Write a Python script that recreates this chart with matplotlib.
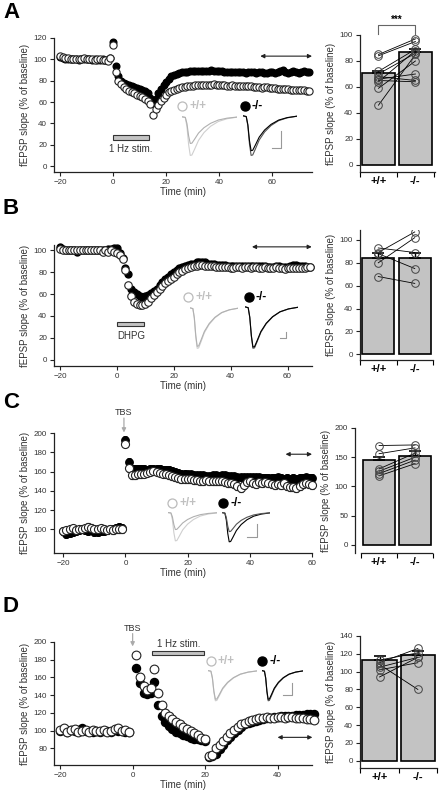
import numpy as np
import matplotlib
matplotlib.use("Agg")
import matplotlib.pyplot as plt
from matplotlib.patches import Rectangle
from matplotlib.lines import Line2D

plt.rcParams['font.family'] = ['Liberation Sans', 'DejaVu Sans']

W, H = 442, 796

# ---------------- data ----------------
# A: 1 Hz LTD
t_a = np.arange(-20, 75)
wt_a = [103, 102, 101, 101, 100, 100, 100, 100, 100, 101, 100, 100, 100, 99, 100, 100, 99, 99, 98, 101,
        113, 88, 80, 77, 74, 72, 70, 69, 68, 67,
        66, 65, 63, 61, 58, 48, 53, 57, 61, 64,
        67, 69, 70, 71, 72, 73, 74, 74, 75, 75,
        75, 76, 76, 76, 76, 76, 76, 76, 77, 76,
        76, 76, 76, 75, 75, 76, 75, 75, 75, 75,
        75, 75, 75, 74, 74, 74, 73, 74, 74, 73,
        73, 73, 72, 72, 72, 72, 72, 71, 71, 71,
        71, 71, 71, 70, 70]
ko_a = [102, 101, 100, 100, 100, 100, 100, 99, 100, 100, 100, 100, 99, 100, 99, 99, 100, 99, 99, 101,
        116, 94, 84, 80, 78, 77, 76, 75, 74, 73,
        72, 71, 70, 68, 64, 59, 63, 68, 72, 76,
        79, 82, 84, 85, 86, 87, 88, 88, 88, 89,
        89, 89, 89, 89, 89, 89, 89, 90, 89, 89,
        89, 89, 88, 88, 88, 88, 88, 88, 88, 88,
        87, 88, 88, 88, 87, 88, 88, 87, 87, 88,
        88, 87, 88, 89, 90, 88, 87, 88, 89, 88,
        87, 88, 89, 88, 88]

# B: DHPG LTD
t_b = np.arange(-20, 69)
wt_b = [101, 100, 100, 100, 100, 100, 100, 100, 100, 100, 100, 100, 100, 100, 100, 99, 100, 99, 100, 99,
        98, 96, 92, 82, 68, 58, 53, 51, 50, 50,
        51, 53, 56, 59, 62, 65, 67, 70, 72, 74,
        76, 78, 80, 81, 83, 84, 85, 86, 86, 87,
        87, 86, 86, 86, 86, 85, 85, 85, 85, 85,
        84, 84, 85, 85, 84, 85, 85, 84, 85, 85,
        84, 84, 85, 84, 84, 84, 85, 84, 84, 83,
        84, 84, 84, 84, 84, 84, 84, 85, 85]
ko_b = [103, 101, 100, 100, 100, 100, 99, 100, 100, 100, 100, 100, 100, 100, 100, 100, 100, 101, 101, 102,
        102, 98, 93, 84, 78, 65, 62, 60, 58, 57,
        58, 59, 61, 63, 65, 68, 71, 74, 76, 78,
        80, 82, 84, 85, 86, 87, 88, 88, 89, 89,
        89, 89, 88, 88, 88, 87, 87, 87, 87, 86,
        86, 86, 86, 86, 86, 86, 86, 86, 86, 86,
        86, 86, 86, 85, 85, 85, 86, 86, 85, 85,
        85, 86, 87, 87, 86, 86, 86, 85, 85]

# C: TBS LTP
t_c = np.arange(-20, 61)
wt_c = [98, 99, 100, 101, 99, 100, 100, 101, 103, 102, 100, 100, 101, 100, 99, 100, 99, 100, 100, 100,
        189, 164, 156, 156, 157, 157, 158, 159, 160, 161,
        160, 159, 158, 157, 156, 155, 154, 153, 152, 152,
        152, 152, 151, 151, 150, 150, 151, 150, 150, 150,
        150, 150, 149, 148, 148, 147, 145, 143, 146, 149,
        150, 148, 147, 149, 148, 149, 148, 147, 146, 147,
        146, 148, 145, 144, 144, 143, 145, 147, 148, 147, 146]
ko_c = [98, 95, 96, 97, 98, 99, 100, 99, 98, 99, 97, 97, 98, 98, 99, 100, 100, 102, 103, 102,
        193, 170, 163, 163, 163, 163, 163, 162, 163, 163,
        163, 163, 162, 162, 162, 161, 160, 159, 158, 158,
        157, 157, 156, 156, 156, 156, 155, 155, 156, 156,
        155, 156, 156, 155, 155, 155, 154, 154, 154, 154,
        154, 154, 154, 154, 153, 153, 153, 153, 153, 154,
        153, 152, 153, 152, 153, 152, 153, 153, 154, 153, 153]

# D: TBS then 1 Hz depotentiation
t_d = np.concatenate([np.arange(-20, 0), np.arange(1, 51)])
wt_d = [101, 103, 98, 101, 102, 99, 100, 101, 99, 101, 100, 100, 101, 99, 100, 102, 103, 100, 101, 98,
        185, 160, 150, 146, 148, 169, 142, 129, 120, 116,
        113, 110, 107, 104, 102, 100, 97, 95, 92, 90,
        71, 72, 80, 84, 88, 93, 97, 101, 104, 107,
        109, 111, 112, 113, 114, 114, 115, 114, 114, 115,
        115, 114, 115, 115, 114, 114, 114, 113, 113, 112]
ko_d = [100, 101, 99, 101, 100, 101, 103, 100, 100, 99, 100, 98, 100, 100, 99, 101, 100, 100, 99, 99,
        171, 154, 142, 141, 142, 155, 129, 116, 110, 105,
        102, 99, 97, 95, 94, 92, 91, 90, 89, 88,
        70, 71, 74, 79, 84, 89, 93, 97, 101, 104,
        107, 109, 110, 111, 112, 113, 114, 114, 115, 115,
        116, 116, 117, 117, 118, 118, 118, 119, 119, 119]

# bar graphs: means, sem, individual slices (paired)
groups = ['+/+', '-/-']
mean_a, sem_a = [71, 87], [1.2, 2.5]
pts_wt_a = [85, 84, 72, 70, 68, 66, 65, 64, 59, 46]
pts_ko_a = [97, 95, 89, 86, 65, 70, 64, 88, 80, 85]
mean_b, sem_b = [84.5, 84.5], [4.5, 4.5]
pts_wt_b = [89, 80, 93, 88, 68]
pts_ko_b = [107, 102, 89, 75, 62]
mean_c, sem_c = [145, 152], [6, 8]
pts_wt_c = [170, 156, 130, 126, 122, 118]
pts_ko_c = [171, 166, 157, 150, 145, 139]
mean_d, sem_d = [113.5, 118.5], [3.5, 4.5]
pts_wt_d = [113, 110, 105, 102, 94, 108]
pts_ko_d = [121, 126, 116, 110, 116, 80]

# example field potential, normalised
trace_t = [0, 0.06, 0.09, 0.12, 0.15, 0.18, 0.23, 0.3, 0.4, 0.52, 0.66, 0.82, 1.0]
trace_y = [0, -0.02, -0.25, -0.7, -0.98, -0.97, -0.82, -0.6, -0.4, -0.24, -0.12, -0.05, -0.01]

TXT = '#333333'
YLAB = 'fEPSP slope (% of baseline)'


def fx(px):
    return px / W


def fy(py):
    return 1 - py / H


def style(ax, fs=5.8):
    for s in ['top', 'right']:
        ax.spines[s].set_visible(False)
    for s in ['left', 'bottom']:
        ax.spines[s].set_linewidth(0.9)
        ax.spines[s].set_color('#222222')
    ax.tick_params(direction='out', length=3, width=0.8, labelsize=fs,
                   colors='#222222', labelcolor=TXT, pad=2)


def main_panel(rect, t, wt, ko, xlim, ylim, xt, yt, ms, err):
    ax = fig.add_axes([fx(rect[0]), fy(rect[3]), fx(rect[1] - rect[0]), (rect[3] - rect[2]) / H])
    style(ax)
    ax.errorbar(t, ko, yerr=err, fmt='o', color='black', ms=ms * 0.92, capsize=1.2,
                elinewidth=0.6, capthick=0.6, zorder=3, clip_on=False)
    ax.errorbar(t, wt, yerr=err, fmt='o', mfc='white', mec='#222222', mew=0.8, ms=ms,
                ecolor='black', capsize=1.2, elinewidth=0.6, capthick=0.6, zorder=4, clip_on=False)
    ax.set_xlim(*xlim)
    ax.set_ylim(*ylim)
    ax.set_xticks(xt)
    ax.set_yticks(yt)
    ax.set_xlabel('Time (min)', fontsize=7, color=TXT, labelpad=1)
    ax.set_ylabel(YLAB, fontsize=7, color=TXT, labelpad=3)
    return ax


def bar_panel(rect, mean, sem, pw, pk, xlim, ylim, yt, width=0.88):
    ax = fig.add_axes([fx(rect[0]), fy(rect[3]), fx(rect[1] - rect[0]), (rect[3] - rect[2]) / H])
    style(ax)
    ax.bar([0, 1], mean, width=width, color='#c3c3c3', edgecolor='black', linewidth=1.2, zorder=1)
    ax.errorbar([0, 1], mean, yerr=[[0, 0], sem], fmt='none', ecolor='black',
                elinewidth=1, capsize=4, capthick=1.2, zorder=2)
    for a, b in zip(pw, pk):
        ax.plot([0, 1], [a, b], '-', color='black', lw=0.6, zorder=3)
    ax.plot([0] * len(pw), pw, 'o', mfc='none', mec='#444444', mew=0.7, ms=5.5, zorder=4)
    ax.plot([1] * len(pk), pk, 'o', mfc='none', mec='#444444', mew=0.7, ms=5.5, zorder=4)
    ax.set_xlim(*xlim)
    ax.set_ylim(*ylim)
    ax.set_yticks(yt)
    ax.set_xticks([0, 1])
    ax.set_xticklabels(groups, fontsize=8, fontweight='bold', color='black')
    ax.tick_params(axis='x', length=0, pad=3)
    ax.set_xticks([-0.5, 0.5, 1.5], minor=True)
    ax.tick_params(axis='x', which='minor', length=3.5, width=0.8, direction='out')
    ax.set_ylabel(YLAB, fontsize=7, color=TXT, labelpad=3)
    return ax


def traces(box, depths, colors):
    x0, x1, y0, y1 = box
    ax = fig.add_axes([fx(x0), fy(y1), fx(x1 - x0), (y1 - y0) / H])
    ax.axis('off')
    for d, c in zip(depths, colors):
        ax.plot(trace_t, [d * v for v in trace_y], color=c, lw=0.8)
    ax.set_xlim(0, 1)
    ax.set_ylim(-1.02, 0.02)


def legend_marks(xo, xk, y):
    fig.add_artist(Line2D([fx(xo)], [fy(y)], marker='o', mfc='white', mec='#bbbbbb',
                          mew=0.9, ms=6.5, transform=fig.transFigure))
    fig.text(fx(xo + 7), fy(y), '+/+', color='#c0c0c0', fontsize=8.5, fontweight='bold',
             va='center', ha='left')
    fig.add_artist(Line2D([fx(xk)], [fy(y)], marker='o', color='black', ms=6.5,
                          transform=fig.transFigure))
    fig.text(fx(xk + 7), fy(y), '-/-', color='black', fontsize=8.5, fontweight='bold',
             va='center', ha='left')


def scalebar(x, ytop, xleft, ybot):
    fig.add_artist(Line2D([fx(x), fx(x), fx(xleft)], [fy(ytop), fy(ybot), fy(ybot)],
                          color='#999999', lw=0.8, transform=fig.transFigure))


def dbl_arrow(ax, x0, x1, y):
    ax.annotate('', xy=(x1, y), xytext=(x0, y),
                arrowprops=dict(arrowstyle='<|-|>', color='#222222', lw=0.8,
                                mutation_scale=6, shrinkA=0, shrinkB=0),
                annotation_clip=False)


def stim_bar(ax, x0, x1, y0, y1):
    ax.add_patch(Rectangle((x0, y0), x1 - x0, y1 - y0, facecolor='#c3c3c3',
                           edgecolor='#333333', lw=0.8, zorder=2))


def tbs(ax, x, ytext, ytop, ybot):
    ax.text(x, ytext, 'TBS', fontsize=6.5, color=TXT, ha='center', va='center')
    ax.annotate('', xy=(x, ybot), xytext=(x, ytop),
                arrowprops=dict(arrowstyle='-|>', color='#aaaaaa', lw=0.9,
                                mutation_scale=6, shrinkA=0, shrinkB=0),
                annotation_clip=False)


fig = plt.figure(figsize=(W / 100, H / 100), dpi=100)

# ---------------- panel A ----------------
ax = main_panel((54, 312, 38, 172), t_a, wt_a, ko_a, (-22.3, 75), (-5.6, 120),
                [-20, 0, 20, 40, 60], range(0, 121, 20), 5.2, 0)
dbl_arrow(ax, 55.5, 75, 103)
stim_bar(ax, 0.1, 13.7, 24, 28.7)
ax.text(6.8, 16, '1 Hz stim.', fontsize=7, color=TXT, ha='center', va='center')
legend_marks(182, 245, 106)
traces((182, 237, 116, 157), [1.0, 0.69], ['#cfcfcf', '#b0b0b0'])
traces((243, 297, 115, 157), [1.0, 0.88], ['#555555', '#000000'])
scalebar(281, 131, 272, 148)

bx = bar_panel((360, 435, 35, 172), mean_a, sem_a, pts_wt_a, pts_ko_a,
               (-0.5, 1.53), (-5.4, 100), range(0, 101, 20))
bx.plot([0, 0, 1, 1], [101, 108, 108, 101], color='#666666', lw=0.8, clip_on=False)
bx.text(0.5, 112, '***', ha='center', va='center', fontsize=7, fontweight='bold', clip_on=False)

# ---------------- panel B ----------------
ax = main_panel((54, 312, 245, 366), t_b, wt_b, ko_b, (-22.1, 68.6), (-5.9, 105),
                [-20, 0, 20, 40, 60], range(0, 101, 20), 5.4, 2.5)
dbl_arrow(ax, 47.5, 68.5, 103.3)
stim_bar(ax, 0, 9.6, 30.6, 34.7)
ax.text(5.0, 22, 'DHPG', fontsize=7, color=TXT, ha='center', va='center')
legend_marks(188, 249, 297)
traces((190, 238, 307, 350), [1.0, 0.95], ['#cfcfcf', '#b0b0b0'])
traces((245, 298, 306, 350), [1.0, 0.97], ['#555555', '#000000'])
scalebar(286, 332, 280, 338)

bar_panel((360, 433, 230, 360), mean_b, sem_b, pts_wt_b, pts_ko_b,
          (-0.5, 1.5), (-5, 108.7), range(0, 101, 20))

# ---------------- panel C ----------------
ax = main_panel((54, 312, 433, 553), t_c, wt_c, ko_c, (-23, 60), (75.6, 200),
                [-20, 0, 20, 40, 60], range(100, 201, 20), 5.8, 4)
dbl_arrow(ax, 51.5, 60, 178)
tbs(ax, -0.5, 221, 215.5, 200.5)
legend_marks(172, 223, 503)
traces((168, 217, 512, 542), [1.0, 0.6], ['#cfcfcf', '#b0b0b0'])
traces((222, 270, 512, 543), [1.0, 0.65], ['#000000', '#555555'])
scalebar(257, 524, 247, 537)

bx = bar_panel((355, 433, 428, 553), mean_c, sem_c, pts_wt_c, pts_ko_c,
               (-0.67, 1.48), (-14, 200), range(0, 201, 50))
bx.spines['bottom'].set_bounds(-0.5, 1.48)

# ---------------- panel D ----------------
ax = main_panel((54, 312, 642, 765), t_d, wt_d, ko_d, (-21.7, 49.5), (61.2, 200),
                [-20, 0, 20, 40], range(80, 201, 20), 6.3, 3)
dbl_arrow(ax, 40, 49.6, 92.4)
tbs(ax, 0, 215, 209.5, 195)
stim_bar(ax, 5.3, 19.8, 185, 189.5)
ax.text(12.6, 198, '1 Hz stim.', fontsize=7, color=TXT, ha='center', va='center', clip_on=False)
legend_marks(211, 262, 661)
traces((208, 257, 670, 702), [1.0, 0.95], ['#cfcfcf', '#b0b0b0'])
traces((262, 303, 670, 702), [1.0, 0.95], ['#555555', '#000000'])
scalebar(292, 683, 283, 695)

bar_panel((360, 437, 636, 768), mean_d, sem_d, pts_wt_d, pts_ko_d,
          (-0.51, 1.49), (-8.2, 140), range(0, 141, 20), width=0.89)

# panel letters
for lab, y in zip('ABCD', [13, 208, 402, 606]):
    fig.text(fx(3), fy(y), lab, fontsize=16, fontweight='bold', va='center', ha='left')

fig.savefig('out.png', dpi=100)
